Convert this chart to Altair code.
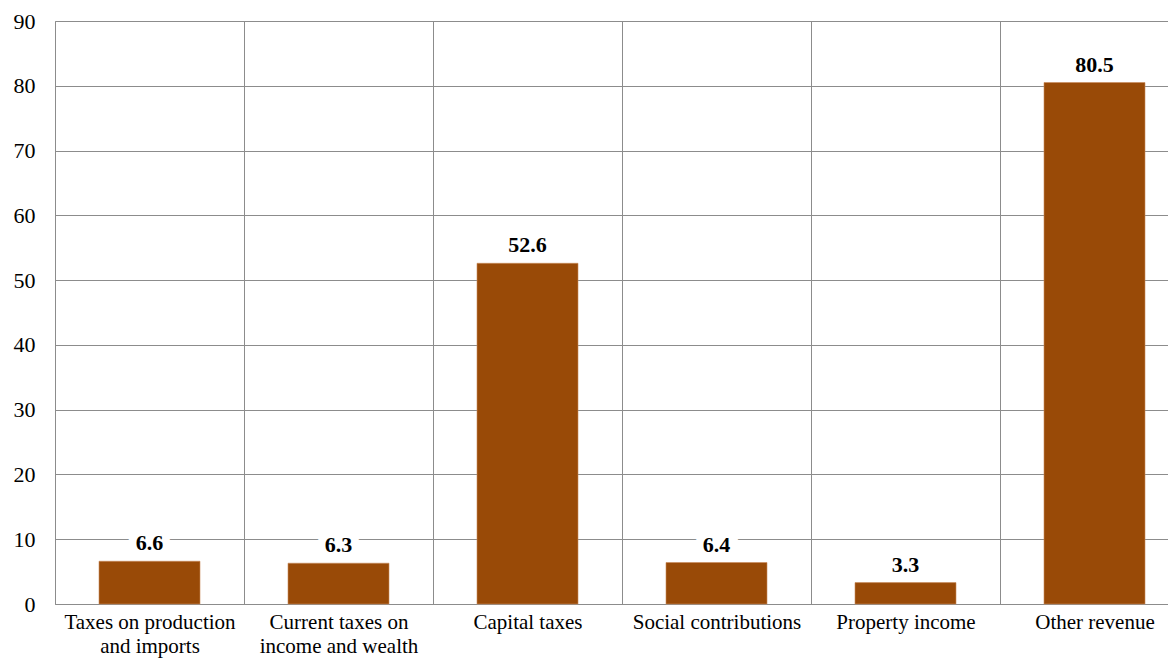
import altair as alt
import pandas as pd

categories = ["Taxes on production\nand imports", "Current taxes on\nincome and wealth",
              "Capital taxes", "Social contributions", "Property income", "Other revenue"]
values = [6.6, 6.3, 52.6, 6.4, 3.3, 80.5]
labels = ["6.6", "6.3", "52.6", "6.4", "3.3", "80.5"]
y_ticks = [0, 10, 20, 30, 40, 50, 60, 70, 80, 90]

df = pd.DataFrame({"cat": categories, "val": values, "lab": labels})

FONT = "'Liberation Serif', 'Times New Roman', serif"
GRID = "#8c8c8c"

x_enc = alt.X("cat:N", sort=categories, title=None,
              scale=alt.Scale(paddingInner=0, paddingOuter=0, range=[0, 1134]),
              axis=alt.Axis(tickBand="extent", grid=True, gridColor=GRID, gridWidth=1,
                            ticks=False, domainColor=GRID, domainWidth=1,
                            labelAngle=0, labelFont=FONT, labelFontSize=21,
                            labelColor="black", labelPadding=7, labelLimit=400,
                            labelLineHeight=24,
                            labelExpr="split(datum.label, '\\n')"))
y_enc = alt.Y("val:Q", title=None,
              scale=alt.Scale(domain=[0, 90], nice=False),
              axis=alt.Axis(values=y_ticks, grid=True, gridColor=GRID, gridWidth=1,
                            ticks=False, domainColor=GRID, domainWidth=1,
                            labelFont=FONT, labelFontSize=22, labelColor="black",
                            labelPadding=20))

bars = alt.Chart(df).mark_bar(color="#994a07", stroke="#c9895a", strokeWidth=0.6,
                              width=alt.RelativeBandSize(101 / 189)).encode(x=x_enc, y=y_enc)

halo = alt.Chart(df).mark_text(font=FONT, fontSize=22, fontWeight="bold", baseline="alphabetic",
                               dy=-11, color="white", stroke="white", strokeWidth=16).encode(
    x=alt.X("cat:N", sort=categories), y="val:Q", text="lab:N")
text = alt.Chart(df).mark_text(font=FONT, fontSize=22, fontWeight="bold", baseline="alphabetic",
                               dy=-11, color="black").encode(
    x=alt.X("cat:N", sort=categories), y="val:Q", text="lab:N")

chart = alt.layer(bars, halo, text).properties(
    width=1113, height=583,
    autosize=alt.AutoSizeParams(type="none"),
    padding={"left": 47, "top": 13, "right": 0, "bottom": 54},
).configure_view(stroke=None).configure(background="white")

chart.save("out.html", embed_options={"renderer": "svg", "actions": False})
